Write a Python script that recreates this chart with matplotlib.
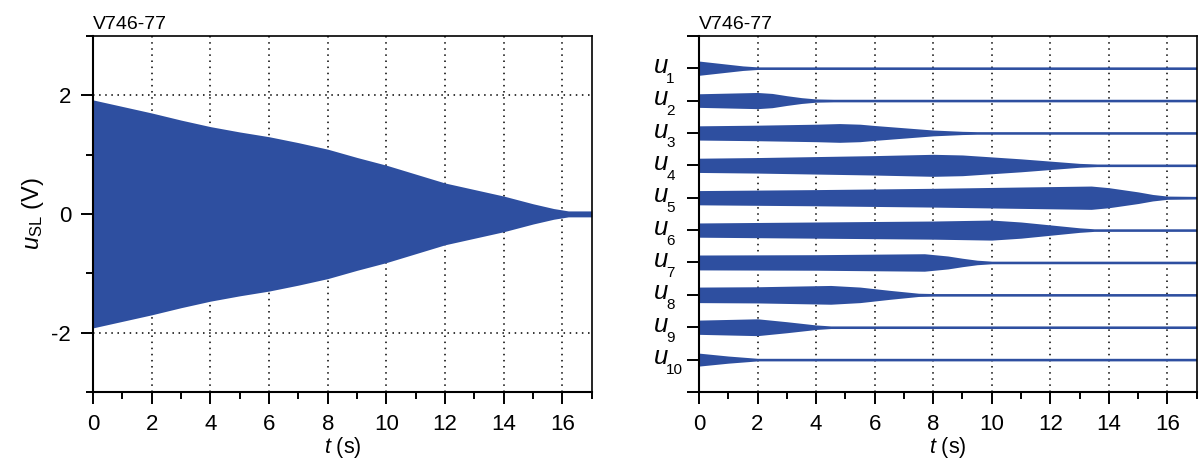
import matplotlib.pyplot as plt
from matplotlib.ticker import MultipleLocator, FixedLocator

plt.rcParams['font.family'] = ['Liberation Sans', 'DejaVu Sans']
plt.rcParams['mathtext.fontset'] = 'custom'
plt.rcParams['mathtext.rm'] = 'Liberation Sans'
plt.rcParams['mathtext.it'] = 'Liberation Sans:italic'

BLUE = '#2E4FA0'

# left panel: envelope of u_SL (half amplitude in V)
t_sl = [0, 1, 2, 3, 4, 5, 6, 7, 8, 9, 10, 11, 12, 13, 14, 15, 15.7, 16.2, 17]
a_sl = [1.92, 1.81, 1.70, 1.58, 1.47, 1.38, 1.30, 1.20, 1.09, 0.95, 0.82,
        0.67, 0.52, 0.41, 0.30, 0.17, 0.09, 0.05, 0.05]

# right panel: envelopes of u1..u10 (half width, in units of trace spacing)
t_u1 = [0, 0.5, 1, 1.5, 2, 17]
a_u1 = [0.22, 0.17, 0.12, 0.07, 0.04, 0.04]
t_u2 = [0, 1, 2, 2.5, 3, 3.5, 4, 4.6, 17]
a_u2 = [0.21, 0.23, 0.25, 0.22, 0.15, 0.09, 0.05, 0.04, 0.04]
t_u3 = [0, 2, 4, 4.8, 5.5, 6, 7, 8, 9, 9.5, 17]
a_u3 = [0.22, 0.24, 0.27, 0.29, 0.27, 0.23, 0.16, 0.09, 0.05, 0.04, 0.04]
t_u4 = [0, 2, 4, 6, 8, 9, 10, 11, 12, 13, 13.6, 17]
a_u4 = [0.22, 0.24, 0.27, 0.30, 0.34, 0.32, 0.26, 0.20, 0.13, 0.06, 0.04, 0.04]
t_u5 = [0, 4, 8, 11, 13.4, 14, 15, 15.5, 16, 17]
a_u5 = [0.22, 0.25, 0.29, 0.33, 0.36, 0.31, 0.18, 0.10, 0.05, 0.04]
t_u6 = [0, 4, 8, 10, 11, 12, 13, 13.5, 17]
a_u6 = [0.22, 0.25, 0.28, 0.31, 0.25, 0.16, 0.07, 0.04, 0.04]
t_u7 = [0, 4, 7.7, 8.5, 9, 9.5, 10, 17]
a_u7 = [0.23, 0.24, 0.27, 0.20, 0.13, 0.07, 0.04, 0.04]
t_u8 = [0, 2, 4.5, 5.5, 6.5, 7.5, 8, 17]
a_u8 = [0.24, 0.25, 0.29, 0.24, 0.14, 0.05, 0.04, 0.04]
t_u9 = [0, 2, 3, 4, 4.5, 17]
a_u9 = [0.22, 0.26, 0.17, 0.07, 0.04, 0.04]
t_u10 = [0, 1, 2, 17]
a_u10 = [0.20, 0.11, 0.04, 0.04]

traces = [(t_u1, a_u1), (t_u2, a_u2), (t_u3, a_u3), (t_u4, a_u4), (t_u5, a_u5),
          (t_u6, a_u6), (t_u7, a_u7), (t_u8, a_u8), (t_u9, a_u9), (t_u10, a_u10)]
subs = [str(i + 1) for i in range(10)]

fig = plt.figure(figsize=(11.99, 4.59), dpi=100)
ax1 = fig.add_axes([0.0776, 0.146, 0.416, 0.776])
ax2 = fig.add_axes([0.583, 0.146, 0.415, 0.776])


def style(ax):
    ax.set_xlim(0, 17)
    ax.xaxis.set_major_locator(MultipleLocator(2))
    ax.xaxis.set_minor_locator(MultipleLocator(1))
    ax.tick_params(which='major', length=8.8, width=1.4, labelsize=16, pad=7)
    ax.tick_params(which='minor', length=4.7, width=1.4)
    ax.tick_params(axis='y', which='major', pad=7)
    for s in ['left', 'bottom']:
        ax.spines[s].set_linewidth(1.5)
    for s in ['top', 'right']:
        ax.spines[s].set_linewidth(1.2)
    ax.set_xlabel(r'$t$ (s)', fontsize=15.5, labelpad=0)
    ax.set_title('V746-77', loc='left', fontsize=14, pad=5)
    ax.set_axisbelow(True)


# left panel
ax1.fill_between(t_sl, [-a for a in a_sl], a_sl, color=BLUE, linewidth=0)
style(ax1)
ax1.set_ylim(-3, 3)
ax1.yaxis.set_major_locator(FixedLocator([-2, 0, 2]))
ax1.yaxis.set_minor_locator(FixedLocator([-3, -1, 1, 3]))
ax1.set_yticklabels(['-2', '0', '2'])
ax1.grid(True, which='major', color='black', linestyle=(0, (1, 3)), linewidth=1.1)
ax1.set_ylabel(r'$u_{\mathrm{SL}}$ (V)', fontsize=17, labelpad=4)

# right panel
for i, (t, a) in enumerate(traces):
    pos = 10 - i
    ax2.fill_between(t, [pos - v for v in a], [pos + v for v in a],
                     color=BLUE, linewidth=0)
style(ax2)
ax2.set_ylim(0, 11)
ax2.set_yticks(range(12))
ax2.set_yticklabels([])
ax2.grid(True, axis='x', which='major', color='black', linestyle=(0, (1, 3)), linewidth=1.1)

# trace labels u_1 ... u_10 with a deep subscript, left aligned
ytr = ax2.get_yaxis_transform()
for i, s in enumerate(subs):
    pos = 10 - i
    ax2.annotate('u', xy=(0, pos), xycoords=ytr, xytext=(-32.6, -3.3),
                 textcoords='offset points', ha='left', va='baseline',
                 fontsize=18.5, style='italic', annotation_clip=False)
    ax2.annotate(s, xy=(0, pos), xycoords=ytr, xytext=(-23.6, -10.4),
                 textcoords='offset points', ha='left', va='baseline',
                 fontsize=11, annotation_clip=False)

fig.savefig('out.png', dpi=100)
